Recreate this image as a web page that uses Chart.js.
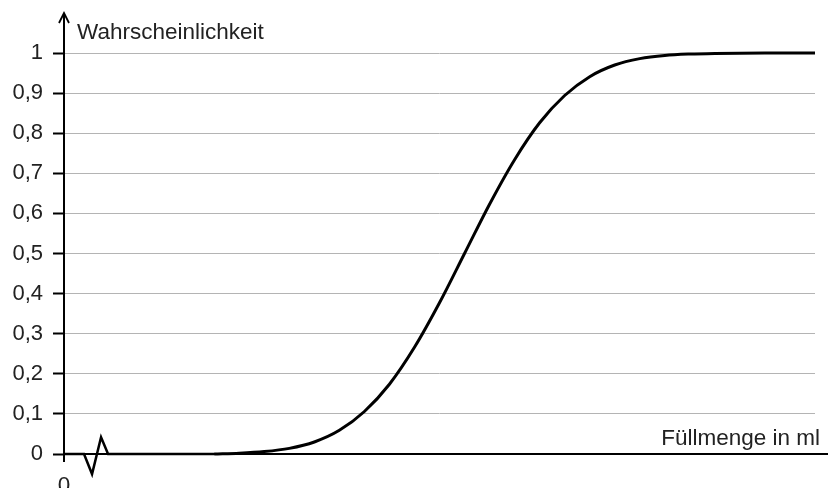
<!DOCTYPE html>
<html>
<head>
<meta charset="utf-8">
<script src="https://cdn.jsdelivr.net/npm/chart.js@4"></script>
<style>
  html, body { margin: 0; padding: 0; background: #fff; }
  #wrap { width: 828px; height: 488px; }
</style>
</head>
<body>
<div id="wrap"><canvas id="myChart" width="828" height="488"></canvas></div>
<script>
'use strict';

// data (x in axis units, 0..150)
let breakX = [0, 4, 5.6, 7.4, 8.8, 30];
let breakY = [0, 0, -0.05, 0.042, 0, 0];
let amountX = [30, 35, 40, 45, 50, 55, 60, 65, 70, 75, 80, 85, 90, 95, 100, 105, 110, 115, 120, 125, 130, 140, 150];
let probability = [0, 0.002, 0.006, 0.014, 0.03, 0.059, 0.106, 0.174, 0.266, 0.377, 0.5, 0.623, 0.734, 0.826, 0.894, 0.941, 0.97, 0.986, 0.994, 0.9975, 0.999, 1, 1];
let yTicks = [0, 0.1, 0.2, 0.3, 0.4, 0.5, 0.6, 0.7, 0.8, 0.9, 1];
let yLabel = 'Wahrscheinlichkeit';
let xLabel = 'Füllmenge in ml';

const fontFamily = '"Liberation Sans", Arial, sans-serif';

function toPoints(xs, ys) {
  let pts = [];
  for (let i = 0; i < xs.length; i++) {
    pts.push({ x: xs[i], y: ys[i] });
  }
  return pts;
}

// draws axes with arrow, break label and axis titles
const axesPlugin = {
  id: 'axesPlugin',
  afterDraw(chart) {
    const ctx = chart.ctx;
    const xs = chart.scales.x;
    const ys = chart.scales.y;
    const x0 = xs.getPixelForValue(0);
    const y0 = ys.getPixelForValue(0);
    ctx.save();
    ctx.strokeStyle = '#000';
    ctx.lineWidth = 2;
    ctx.beginPath();
    ctx.moveTo(x0, 13);
    ctx.lineTo(x0, y0 + 8);
    ctx.moveTo(x0, y0);
    ctx.lineTo(chart.width, y0);
    ctx.stroke();

    ctx.lineWidth = 1.8;
    ctx.beginPath();
    ctx.moveTo(x0 - 5, 23);
    ctx.lineTo(x0, 13);
    ctx.lineTo(x0 + 5, 23);
    ctx.stroke();

    ctx.fillStyle = '#222';
    ctx.font = '22.5px ' + fontFamily;
    ctx.textBaseline = 'alphabetic';
    ctx.textAlign = 'left';
    ctx.fillText(yLabel, x0 + 13, 39);
    ctx.textAlign = 'right';
    ctx.fillText(xLabel, 820, y0 - 9);
    ctx.textAlign = 'center';
    ctx.textBaseline = 'top';
    ctx.fillText('0', x0, y0 + 21);
    ctx.restore();
  }
};

let config = {
  type: 'line',
  data: {
    datasets: [{
      data: toPoints(breakX, breakY),
      borderColor: '#000',
      borderWidth: 2.5,
      pointRadius: 0,
      tension: 0,
      clip: false
    },
    {
      data: toPoints(amountX, probability),
      borderColor: '#000',
      borderWidth: 3,
      pointRadius: 0,
      cubicInterpolationMode: 'monotone',
      clip: false
    }]
  },
  options: {
    responsive: false,
    animation: false,
    layout: {
      padding: { top: 53, right: 13, bottom: 34, left: 0 }
    },
    plugins: {
      legend: { display: false },
      tooltip: { enabled: false }
    },
    scales: {
      x: {
        type: 'linear',
        display: false,
        min: 0,
        max: 150
      },
      y: {
        min: 0,
        max: 1,
        afterFit(scale) {
          scale.width = 64;
        },
        afterBuildTicks(scale) {
          scale.ticks = yTicks.map(v => ({ value: v }));
        },
        ticks: {
          padding: 10,
          color: '#222',
          font: { family: fontFamily, size: 22 },
          callback: v => String(v).replace('.', ',')
        },
        grid: {
          color: ctx => ctx.tick && ctx.tick.value === 0 ? 'rgba(0,0,0,0)' : '#b4b4b4',
          tickColor: '#000',
          tickLength: 11,
          tickWidth: 2,
          lineWidth: 1
        },
        border: { display: false }
      }
    }
  },
  plugins: [axesPlugin]
};

const ctx = document.getElementById('myChart').getContext('2d');
const myChart = new Chart(ctx, config);
</script>
</body>
</html>
